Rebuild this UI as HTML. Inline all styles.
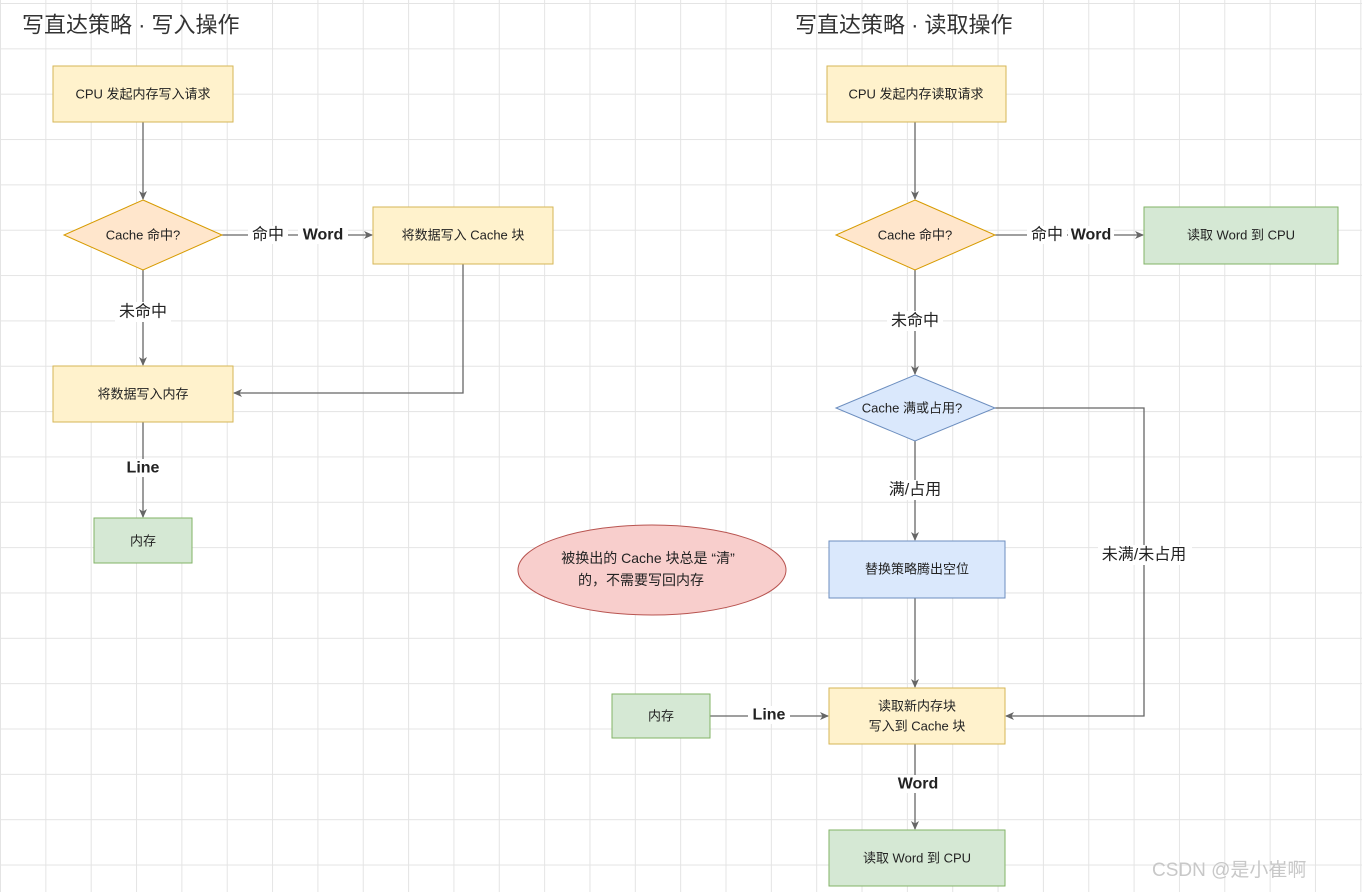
<!DOCTYPE html>
<html><head><meta charset="utf-8"><style>
html,body{margin:0;padding:0;background:#fff}
body{width:1362px;height:892px;overflow:hidden;position:relative;
background-image:linear-gradient(#e4e4e4 1px,transparent 1px),linear-gradient(90deg,#e4e4e4 1px,transparent 1px);
background-size:45.35px 45.35px;background-position:0 3px,0 0;}
svg{position:absolute;left:0;top:0}
text{font-family:"Liberation Sans","Noto Sans CJK SC",sans-serif;fill:#222}
.n{font-size:13px;text-anchor:middle;dominant-baseline:central}
.l{font-size:16px;text-anchor:middle;dominant-baseline:central}
.b{font-weight:bold}
.e{stroke:#666;stroke-width:1.3;fill:none}
.lb{fill:#fff}
</style></head><body>
<svg width="1362" height="892" viewBox="0 0 1362 892">
<defs><marker id="a" markerWidth="10" markerHeight="10" refX="8" refY="5" orient="auto" markerUnits="userSpaceOnUse"><path d="M0,1 L9,5 L0,9 L2.5,5Z" fill="#666"/></marker></defs>
<text x="22" y="25" style="font-size:22px;fill:#333;dominant-baseline:central">写直达策略 · 写入操作</text>
<text x="795" y="25" style="font-size:22px;fill:#333;dominant-baseline:central">写直达策略 · 读取操作</text>

<!-- left edges -->
<path class="e" d="M143,122 V199" marker-end="url(#a)"/>
<path class="e" d="M222,235 H372" marker-end="url(#a)"/>
<path class="e" d="M463,264 V393 H234" marker-end="url(#a)"/>
<path class="e" d="M143,270 V365" marker-end="url(#a)"/>
<path class="e" d="M143,422 V517" marker-end="url(#a)"/>
<rect class="lb" x="248" y="226" width="40" height="18"/><text class="l" x="268" y="235">命中</text>
<rect class="lb" x="298" y="226" width="50" height="18"/><text class="l b" x="323" y="235">Word</text>
<rect class="lb" x="115" y="302" width="56" height="20"/><text class="l" x="143" y="312">未命中</text>
<rect class="lb" x="122" y="459" width="42" height="18"/><text class="l b" x="143" y="468">Line</text>

<!-- left nodes -->
<rect x="53" y="66" width="180" height="56" fill="#fff2cc" stroke="#d6b656"/>
<text class="n" x="143" y="94">CPU 发起内存写入请求</text>
<polygon points="143,200 222,235 143,270 64,235" fill="#ffe6cc" stroke="#d79b00"/>
<text class="n" x="143" y="235">Cache 命中?</text>
<rect x="373" y="207" width="180" height="57" fill="#fff2cc" stroke="#d6b656"/>
<text class="n" x="463" y="235">将数据写入 Cache 块</text>
<rect x="53" y="366" width="180" height="56" fill="#fff2cc" stroke="#d6b656"/>
<text class="n" x="143" y="394">将数据写入内存</text>
<rect x="94" y="518" width="98" height="45" fill="#d5e8d4" stroke="#82b366"/>
<text class="n" x="143" y="541">内存</text>

<!-- right edges -->
<path class="e" d="M915,122 V199" marker-end="url(#a)"/>
<path class="e" d="M995,235 H1143" marker-end="url(#a)"/>
<path class="e" d="M915,270 V374" marker-end="url(#a)"/>
<path class="e" d="M915,441 V540" marker-end="url(#a)"/>
<path class="e" d="M995,408 H1144 V716 H1006" marker-end="url(#a)"/>
<path class="e" d="M915,598 V687" marker-end="url(#a)"/>
<path class="e" d="M710,716 H828" marker-end="url(#a)"/>
<path class="e" d="M915,744 V829" marker-end="url(#a)"/>
<rect class="lb" x="1027" y="226" width="40" height="18"/><text class="l" x="1047" y="235">命中</text>
<rect class="lb" x="1068" y="226" width="46" height="18"/><text class="l b" x="1091" y="235">Word</text>
<rect class="lb" x="887" y="311" width="56" height="20"/><text class="l" x="915" y="321">未命中</text>
<rect class="lb" x="885" y="480" width="60" height="20"/><text class="l" x="915" y="490">满/占用</text>
<rect class="lb" x="1098" y="545" width="94" height="20"/><text class="l" x="1144" y="555">未满/未占用</text>
<rect class="lb" x="748" y="706" width="42" height="18"/><text class="l b" x="769" y="715">Line</text>
<rect class="lb" x="894" y="775" width="48" height="18"/><text class="l b" x="918" y="784">Word</text>

<!-- right nodes -->
<rect x="827" y="66" width="179" height="56" fill="#fff2cc" stroke="#d6b656"/>
<text class="n" x="916" y="94">CPU 发起内存读取请求</text>
<polygon points="915,200 995,235 915,270 836,235" fill="#ffe6cc" stroke="#d79b00"/>
<text class="n" x="915" y="235">Cache 命中?</text>
<rect x="1144" y="207" width="194" height="57" fill="#d5e8d4" stroke="#82b366"/>
<text class="n" x="1241" y="235">读取 Word 到 CPU</text>
<polygon points="915,375 995,408 915,441 836,408" fill="#dae8fc" stroke="#6c8ebf"/>
<text class="n" x="912" y="408">Cache 满或占用?</text>
<rect x="829" y="541" width="176" height="57" fill="#dae8fc" stroke="#6c8ebf"/>
<text class="n" x="917" y="569">替换策略腾出空位</text>
<rect x="829" y="688" width="176" height="56" fill="#fff2cc" stroke="#d6b656"/>
<text class="n" x="917" y="706">读取新内存块</text>
<text class="n" x="917" y="726">写入到 Cache 块</text>
<rect x="612" y="694" width="98" height="44" fill="#d5e8d4" stroke="#82b366"/>
<text class="n" x="661" y="716">内存</text>
<rect x="829" y="830" width="176" height="56" fill="#d5e8d4" stroke="#82b366"/>
<text class="n" x="917" y="858">读取 Word 到 CPU</text>
<ellipse cx="652" cy="570" rx="134" ry="45" fill="#f8cecc" stroke="#b85450"/>
<text class="n" x="648" y="558" style="font-size:14px">被换出的 Cache 块总是 “清”</text>
<text class="n" x="641" y="580" style="font-size:14px">的，不需要写回内存</text>

<text x="1152" y="876" style="font-size:19px;fill:#c8c8c8">CSDN @是小崔啊</text>
</svg>
</body></html>
